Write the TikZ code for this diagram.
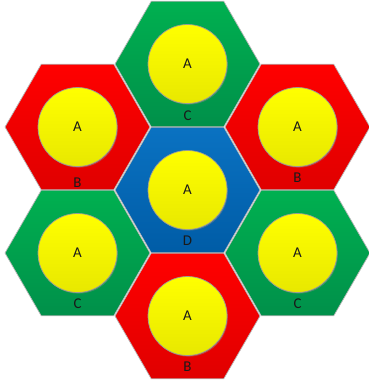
\documentclass[tikz,border=0pt]{standalone}
\usepackage{fontspec}
\setmainfont{Carlito}
\definecolor{grtop}{HTML}{00B050}
\definecolor{grbot}{HTML}{00904A}
\definecolor{rdtop}{HTML}{FF0000}
\definecolor{rdbot}{HTML}{E00000}
\definecolor{bltop}{HTML}{0A72C2}
\definecolor{blbot}{HTML}{005CA6}
\definecolor{yltop}{HTML}{FFFF00}
\definecolor{ylbot}{HTML}{E8E800}
\definecolor{rim}{HTML}{9A9A9A}
\definecolor{txt}{HTML}{1A1A1A}
\tikzset{
  hexcell/.style={draw=rim!70, line width=0.7bp},
  disc/.style={draw=rim, line width=0.7bp, top color=yltop, bottom color=ylbot},
  discshadow/.style={fill=black!45, opacity=0.45},
  lbl/.style={text=txt, font=\fontsize{15}{15}\selectfont, inner sep=0pt},
}
\begin{document}
\begin{tikzpicture}[x=1bp,y=-1bp]
\useasboundingbox (0,0) rectangle (369,383);
\def\R{72.5}
\foreach \cx/\cy/\ct/\cb/\lab/\dy/\nm in {
  187.5/64/grtop/grbot/C/52/t,
  77.5/127/rdtop/rdbot/B/56/ul,
  297.5/127/rdtop/rdbot/B/51/ur,
  187.5/190/bltop/blbot/D/51/c,
  77.5/253/grtop/grbot/C/51/ll,
  297.5/253/grtop/grbot/C/51/lr,
  187.5/316/rdtop/rdbot/B/51/b}{
  \draw[hexcell, top color=\ct, bottom color=\cb]
    (\cx+\R,\cy) -- (\cx+\R/2,\cy+0.866*\R) -- (\cx-\R/2,\cy+0.866*\R)
    -- (\cx-\R,\cy) -- (\cx-\R/2,\cy-0.866*\R) -- (\cx+\R/2,\cy-0.866*\R) -- cycle;
  \fill[discshadow] (\cx+0.9,\cy+1.1) circle (39.5);
  \draw[disc] (\cx,\cy) circle (39.5);
  \node[lbl] (a\nm) at (\cx,\cy) {A};
  \node[lbl] (l\nm) at (\cx,\cy+\dy) {\lab};
}
\end{tikzpicture}
\end{document}
